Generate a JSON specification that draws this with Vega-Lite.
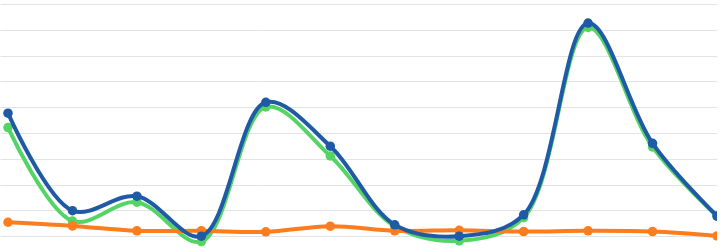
{
  "$schema": "https://vega.github.io/schema/vega-lite/v6.json",
  "width": 717,
  "height": 249,
  "padding": 0,
  "autosize": {"type": "none"},
  "background": "white",
  "config": {"view": {"stroke": null}},
  "data": {
    "values": [
      {"i": 0, "s": "green", "v": 52.1}, {"i": 1, "s": "green", "v": 15.9}, {"i": 2, "s": "green", "v": 23.2}, {"i": 3, "s": "green", "v": 7.9},
      {"i": 4, "s": "green", "v": 60.1}, {"i": 5, "s": "green", "v": 41.1}, {"i": 6, "s": "green", "v": 13.9}, {"i": 7, "s": "green", "v": 8.2},
      {"i": 8, "s": "green", "v": 17.2}, {"i": 9, "s": "green", "v": 90.9}, {"i": 10, "s": "green", "v": 44.6}, {"i": 11, "s": "green", "v": 17.8},
      {"i": 0, "s": "orange", "v": 15.4}, {"i": 1, "s": "orange", "v": 14.0}, {"i": 2, "s": "orange", "v": 12.1}, {"i": 3, "s": "orange", "v": 12.1},
      {"i": 4, "s": "orange", "v": 11.7}, {"i": 5, "s": "orange", "v": 13.9}, {"i": 6, "s": "orange", "v": 12.1}, {"i": 7, "s": "orange", "v": 12.3},
      {"i": 8, "s": "orange", "v": 11.8}, {"i": 9, "s": "orange", "v": 12.1}, {"i": 10, "s": "orange", "v": 11.8}, {"i": 11, "s": "orange", "v": 10.1},
      {"i": 0, "s": "blue", "v": 57.7}, {"i": 1, "s": "blue", "v": 19.9}, {"i": 2, "s": "blue", "v": 25.5}, {"i": 3, "s": "blue", "v": 10.0},
      {"i": 4, "s": "blue", "v": 61.9}, {"i": 5, "s": "blue", "v": 44.9}, {"i": 6, "s": "blue", "v": 14.4}, {"i": 7, "s": "blue", "v": 10.0},
      {"i": 8, "s": "blue", "v": 18.3}, {"i": 9, "s": "blue", "v": 92.6}, {"i": 10, "s": "blue", "v": 46.0}, {"i": 11, "s": "blue", "v": 17.8}
    ]
  },
  "encoding": {
    "x": {"field": "i", "type": "quantitative", "scale": {"domain": [-0.124, 11], "nice": false, "zero": false}, "axis": null},
    "y": {"field": "v", "type": "quantitative", "scale": {"domain": [5.04, 101.55], "nice": false, "zero": false},
      "axis": {"values": [10, 20, 30, 40, 50, 60, 70, 80, 90, 100], "labels": false, "ticks": false, "domain": false, "title": null, "grid": true, "gridColor": "#e3e3e3", "gridWidth": 1}},
    "color": {"field": "s", "type": "nominal", "scale": {"domain": ["green", "orange", "blue"], "range": ["#55d466", "#fd7c1c", "#1f5aa6"]}, "legend": null}
  },
  "layer": [
    {"transform": [{"filter": "datum.s === 'green'"}], "mark": {"type": "line", "interpolate": "catmull-rom", "strokeWidth": 4}},
    {"transform": [{"filter": "datum.s === 'green'"}], "mark": {"type": "circle", "size": 90, "opacity": 1}},
    {"transform": [{"filter": "datum.s === 'orange'"}], "mark": {"type": "line", "interpolate": "catmull-rom", "strokeWidth": 4}},
    {"transform": [{"filter": "datum.s === 'orange'"}], "mark": {"type": "circle", "size": 90, "opacity": 1}},
    {"transform": [{"filter": "datum.s === 'blue'"}], "mark": {"type": "line", "interpolate": "catmull-rom", "strokeWidth": 4}},
    {"transform": [{"filter": "datum.s === 'blue'"}], "mark": {"type": "circle", "size": 90, "opacity": 1}}
  ]
}
